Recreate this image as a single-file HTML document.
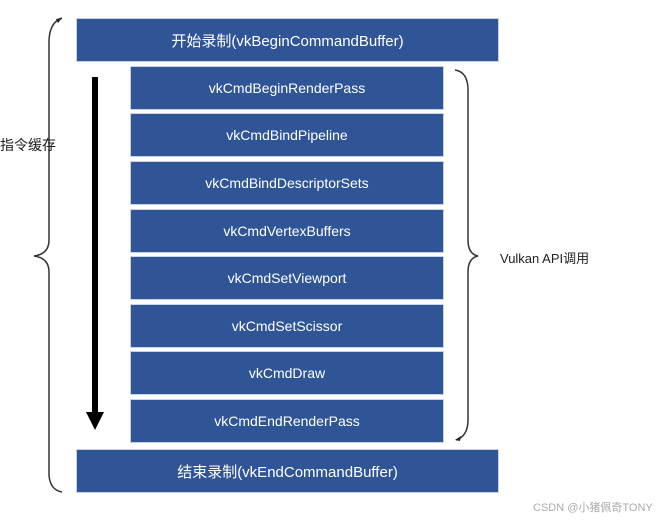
<html><head><style>
body{margin:0;width:670px;height:520px;background:#fff;position:relative;font-family:"Liberation Sans","Noto Sans CJK SC",sans-serif;overflow:hidden}
.b{position:absolute;background:#2f5597;color:#fff;display:flex;align-items:center;justify-content:center;font-size:14px;box-sizing:border-box;border:1px solid #c9d3e6}
.t{position:absolute;font-size:14px;color:#222}
</style></head><body>
<div class="b" style="left:76px;top:18px;width:423px;height:44px;font-size:15px">开始录制(vkBeginCommandBuffer)</div>
<div class="b" style="left:130px;top:66px;width:314px;height:44px">vkCmdBeginRenderPass</div>
<div class="b" style="left:130px;top:113px;width:314px;height:44px">vkCmdBindPipeline</div>
<div class="b" style="left:130px;top:161px;width:314px;height:44px">vkCmdBindDescriptorSets</div>
<div class="b" style="left:130px;top:209px;width:314px;height:44px">vkCmdVertexBuffers</div>
<div class="b" style="left:130px;top:256px;width:314px;height:44px">vkCmdSetViewport</div>
<div class="b" style="left:130px;top:304px;width:314px;height:44px">vkCmdSetScissor</div>
<div class="b" style="left:130px;top:351px;width:314px;height:44px">vkCmdDraw</div>
<div class="b" style="left:130px;top:399px;width:314px;height:44px">vkCmdEndRenderPass</div>
<div class="b" style="left:76px;top:449px;width:423px;height:44px;font-size:15px">结束录制(vkEndCommandBuffer)</div>
<svg width="670" height="520" style="position:absolute;left:0;top:0">
<path d="M62,18 Q50,22 49,40 L49,240 Q49,254 34,256 Q49,258 49,272 L49,475 Q50,490 62,492" fill="none" stroke="#333" stroke-width="1.5"/>
<path d="M56,19 L62,18 L58,23 Z" fill="#222"/>
<rect x="92" y="77" width="6" height="338" fill="#000"/>
<path d="M86,412 L104,412 L95,430 Z" fill="#000"/>
<path d="M455,70 Q468,72 468,90 L468,240 Q468,254 478,256 Q468,258 468,272 L468,420 Q468,436 456,440" fill="none" stroke="#333" stroke-width="1.5"/>
<path d="M455,440 L461,436 L460,441 Z" fill="#222"/>
</svg>
<div class="t" style="left:0;top:135px">指令缓存</div>
<div class="t" style="left:500px;top:248px;font-size:13px">Vulkan API调用</div>
<div class="t" style="left:533px;top:499px;font-size:11px;color:#aaa">CSDN @小猪佩奇TONY</div>
</body></html>
